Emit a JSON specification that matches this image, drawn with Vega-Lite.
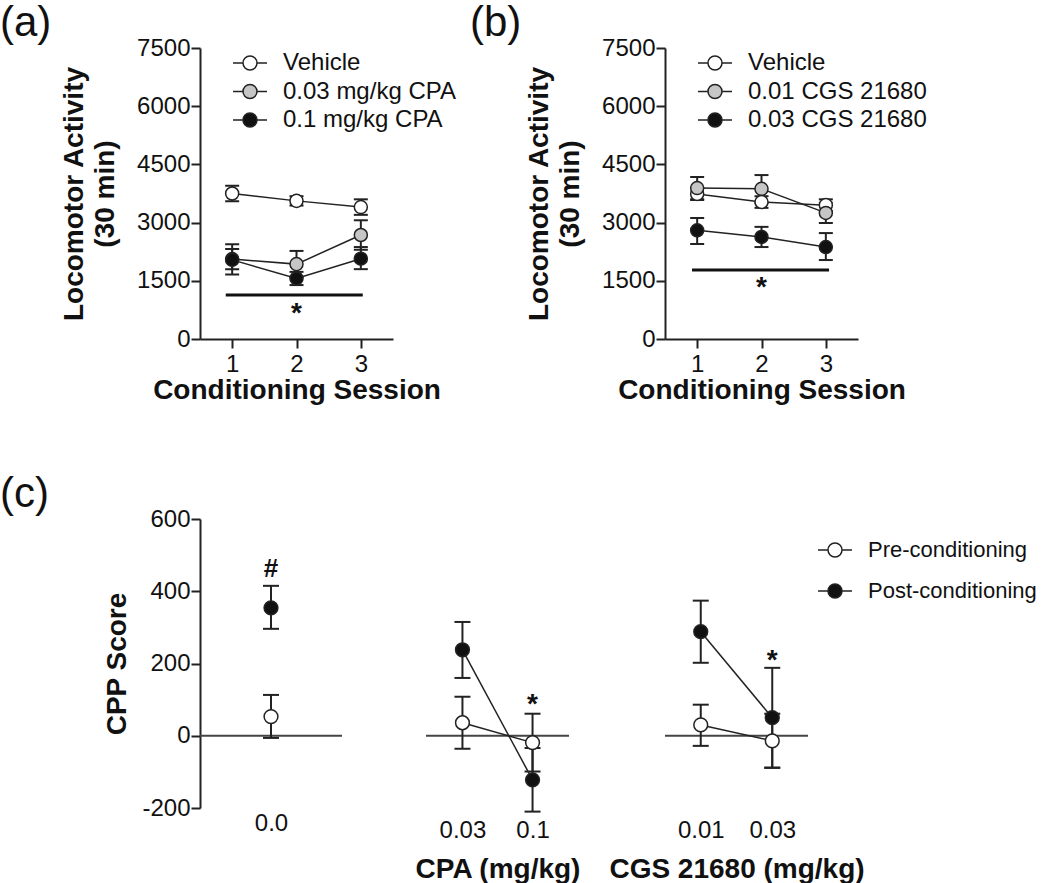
{
 "$schema": "https://vega.github.io/schema/vega-lite/v6.json",
 "padding": {"top": 2, "left": 0, "right": 0, "bottom": 0},
 "background": "white",
 "config": {
  "font": "Liberation Sans",
  "view": {"stroke": null},
  "axis": {"labelFont": "Liberation Sans", "titleFont": "Liberation Sans", "labelFontSize": 24, "labelColor": "#111", "titleFontSize": 28, "titleFontWeight": "bold", "titleColor": "#111", "domainColor": "#222", "domainWidth": 2, "tickColor": "#222", "tickWidth": 2, "grid": false},
  "title": {"font": "Liberation Sans", "fontSize": 42, "fontWeight": "normal", "anchor": "start", "frame": "group", "color": "#111"},
  "legend": {"labelFont": "Liberation Sans", "labelLimit": 0}
 },
 "datasets": {
  "loco": [
   {"panel": "a", "group": "Vehicle", "session": 1, "mean": 3750, "lo": 3550, "hi": 3950},
   {"panel": "a", "group": "Vehicle", "session": 2, "mean": 3560, "lo": 3440, "hi": 3680},
   {"panel": "a", "group": "Vehicle", "session": 3, "mean": 3400, "lo": 3200, "hi": 3600},
   {"panel": "a", "group": "0.03 mg/kg CPA", "session": 1, "mean": 2060, "lo": 1800, "hi": 2320},
   {"panel": "a", "group": "0.03 mg/kg CPA", "session": 2, "mean": 1930, "lo": 1590, "hi": 2270},
   {"panel": "a", "group": "0.03 mg/kg CPA", "session": 3, "mean": 2680, "lo": 2300, "hi": 3060},
   {"panel": "a", "group": "0.1 mg/kg CPA", "session": 1, "mean": 2040, "lo": 1660, "hi": 2440},
   {"panel": "a", "group": "0.1 mg/kg CPA", "session": 2, "mean": 1560, "lo": 1390, "hi": 1730},
   {"panel": "a", "group": "0.1 mg/kg CPA", "session": 3, "mean": 2070, "lo": 1800, "hi": 2370},
   {"panel": "b", "group": "Vehicle", "session": 1, "mean": 3740, "lo": 3580, "hi": 3900},
   {"panel": "b", "group": "Vehicle", "session": 2, "mean": 3530, "lo": 3380, "hi": 3680},
   {"panel": "b", "group": "Vehicle", "session": 3, "mean": 3450, "lo": 3300, "hi": 3600},
   {"panel": "b", "group": "0.01 CGS 21680", "session": 1, "mean": 3890, "lo": 3600, "hi": 4175},
   {"panel": "b", "group": "0.01 CGS 21680", "session": 2, "mean": 3870, "lo": 3510, "hi": 4225},
   {"panel": "b", "group": "0.01 CGS 21680", "session": 3, "mean": 3250, "lo": 2990, "hi": 3510},
   {"panel": "b", "group": "0.03 CGS 21680", "session": 1, "mean": 2800, "lo": 2450, "hi": 3120},
   {"panel": "b", "group": "0.03 CGS 21680", "session": 2, "mean": 2630, "lo": 2370, "hi": 2890},
   {"panel": "b", "group": "0.03 CGS 21680", "session": 3, "mean": 2370, "lo": 2035, "hi": 2730}
  ],
  "sig": [
   {"panel": "a", "x1": 0.9, "x2": 3.03, "y": 1134, "xs": 2, "ys": 440, "label": "*"},
   {"panel": "b", "x1": 0.92, "x2": 3.05, "y": 1780, "xs": 2, "ys": 1100, "label": "*"}
  ],
  "cpp": [
   {"sub": "c1", "dose": "0.0", "phase": "Pre-conditioning", "mean": 53, "lo": -6, "hi": 113},
   {"sub": "c1", "dose": "0.0", "phase": "Post-conditioning", "mean": 354, "lo": 296, "hi": 415},
   {"sub": "c2", "dose": "0.03", "phase": "Pre-conditioning", "mean": 36, "lo": -36, "hi": 108},
   {"sub": "c2", "dose": "0.1", "phase": "Pre-conditioning", "mean": -19, "lo": -99, "hi": 61},
   {"sub": "c2", "dose": "0.03", "phase": "Post-conditioning", "mean": 238, "lo": 160, "hi": 315},
   {"sub": "c2", "dose": "0.1", "phase": "Post-conditioning", "mean": -122, "lo": -210, "hi": -34},
   {"sub": "c3", "dose": "0.01", "phase": "Pre-conditioning", "mean": 30, "lo": -28, "hi": 86},
   {"sub": "c3", "dose": "0.03", "phase": "Pre-conditioning", "mean": -14, "lo": -89, "hi": 61},
   {"sub": "c3", "dose": "0.01", "phase": "Post-conditioning", "mean": 288, "lo": 202, "hi": 374},
   {"sub": "c3", "dose": "0.03", "phase": "Post-conditioning", "mean": 50, "lo": -88, "hi": 188}
  ],
  "cppnote": [
   {"sub": "c1", "dose": "0.0", "y": 440, "label": "#"},
   {"sub": "c2", "dose": "0.1", "y": 64, "label": "*"},
   {"sub": "c3", "dose": "0.03", "y": 185, "label": "*"}
  ]
 },
 "spacing": 69,
 "resolve": {"scale": {"fill": "independent"}, "legend": {"fill": "independent"}},
 "vconcat": [
  {
   "spacing": 14,
   "resolve": {"scale": {"fill": "independent"}, "legend": {"fill": "independent"}},
   "hconcat": [
    {
     "width": 193, "height": 291,
     "title": {"text": "(a)", "dx": -200, "offset": -9},
     "layer": [
      {"data": {"name": "loco"}, "transform": [{"filter": "datum.panel === 'a'"}],
       "mark": {"type": "line", "stroke": "#222", "strokeWidth": 1.5},
       "encoding": {
        "x": {"field": "session", "type": "quantitative", "scale": {"domain": [0.5, 3.5]}, "axis": {"values": [1, 2, 3], "labelExpr": "'' + datum.value", "tickSize": 9, "labelPadding": 4, "titlePadding": 0, "title": "Conditioning Session"}},
        "y": {"field": "mean", "type": "quantitative", "scale": {"domain": [0, 7500]}, "axis": {"values": [0, 1500, 3000, 4500, 6000, 7500], "labelExpr": "'' + datum.value", "tickSize": 9, "labelPadding": 1, "titlePadding": 17, "titleLineHeight": 31, "title": ["Locomotor Activity", "(30 min)"]}},
        "detail": {"field": "group"}
       }},
      {"data": {"name": "loco"}, "transform": [{"filter": "datum.panel === 'a'"}],
       "mark": {"type": "rule", "stroke": "#222", "strokeWidth": 2},
       "encoding": {
        "x": {"field": "session", "type": "quantitative", "scale": {"domain": [0.5, 3.5]}},
        "y": {"field": "lo", "type": "quantitative", "scale": {"domain": [0, 7500]}},
        "y2": {"field": "hi"}
       }},
      {"data": {"name": "loco"}, "transform": [{"filter": "datum.panel === 'a'"}],
       "mark": {"type": "tick", "orient": "horizontal", "size": 14, "thickness": 2, "color": "#222", "opacity": 1},
       "encoding": {
        "x": {"field": "session", "type": "quantitative", "scale": {"domain": [0.5, 3.5]}},
        "y": {"field": "hi", "type": "quantitative", "scale": {"domain": [0, 7500]}}
       }},
      {"data": {"name": "loco"}, "transform": [{"filter": "datum.panel === 'a'"}],
       "mark": {"type": "tick", "orient": "horizontal", "size": 14, "thickness": 2, "color": "#222", "opacity": 1},
       "encoding": {
        "x": {"field": "session", "type": "quantitative", "scale": {"domain": [0.5, 3.5]}},
        "y": {"field": "lo", "type": "quantitative", "scale": {"domain": [0, 7500]}}
       }},
      {"data": {"name": "loco"}, "transform": [{"filter": "datum.panel === 'a'"}],
       "mark": {"type": "point", "filled": true, "size": 170, "stroke": "#222", "strokeWidth": 1.5, "opacity": 1},
       "encoding": {
        "x": {"field": "session", "type": "quantitative", "scale": {"domain": [0.5, 3.5]}},
        "y": {"field": "mean", "type": "quantitative", "scale": {"domain": [0, 7500]}},
        "fill": {"field": "group", "type": "nominal", "sort": null,
         "scale": {"domain": ["Vehicle", "0.03 mg/kg CPA", "0.1 mg/kg CPA"], "range": ["#ffffff", "#c6c6c6", "#111111"]},
         "legend": {"orient": "none", "legendX": 38, "legendY": 3, "title": null, "padding": 0, "symbolType": "M-2.43,0H-1M1,0H2.43M-1,0A1,1,0,1,0,1,0A1,1,0,1,0,-1,0Z", "symbolSize": 196, "symbolStrokeWidth": 1.5, "symbolStrokeColor": "#222", "symbolOpacity": 1, "labelFontSize": 24, "labelColor": "#111", "labelOffset": 21, "rowPadding": 4.5, "labelLimit": 0,
          "encode": {"symbols": {"update": {"stroke": {"value": "#222"}, "strokeWidth": {"value": 1.5}, "shape": {"value": "M-2.43,0H-1M1,0H2.43M-1,0A1,1,0,1,0,1,0A1,1,0,1,0,-1,0Z"}, "size": {"value": 196}, "opacity": {"value": 1}}}}}
        }
       }},
      {"data": {"name": "sig"}, "transform": [{"filter": "datum.panel === 'a'"}],
       "mark": {"type": "rule", "stroke": "#111", "strokeWidth": 3},
       "encoding": {
        "x": {"field": "x1", "type": "quantitative", "scale": {"domain": [0.5, 3.5]}},
        "x2": {"field": "x2"},
        "y": {"field": "y", "type": "quantitative", "scale": {"domain": [0, 7500]}}
       }},
      {"data": {"name": "sig"}, "transform": [{"filter": "datum.panel === 'a'"}],
       "mark": {"type": "text", "fontSize": 28, "fontWeight": "bold", "baseline": "alphabetic", "color": "#111"},
       "encoding": {
        "x": {"field": "xs", "type": "quantitative", "scale": {"domain": [0.5, 3.5]}},
        "y": {"field": "ys", "type": "quantitative", "scale": {"domain": [0, 7500]}},
        "text": {"field": "label"}
       }}
     ]
    },
    {
     "width": 193, "height": 291,
     "title": {"text": "(b)", "dx": -195, "offset": -9},
     "layer": [
      {"data": {"name": "loco"}, "transform": [{"filter": "datum.panel === 'b'"}],
       "mark": {"type": "line", "stroke": "#222", "strokeWidth": 1.5},
       "encoding": {
        "x": {"field": "session", "type": "quantitative", "scale": {"domain": [0.5, 3.5]}, "axis": {"values": [1, 2, 3], "labelExpr": "'' + datum.value", "tickSize": 9, "labelPadding": 4, "titlePadding": 0, "title": "Conditioning Session"}},
        "y": {"field": "mean", "type": "quantitative", "scale": {"domain": [0, 7500]}, "axis": {"values": [0, 1500, 3000, 4500, 6000, 7500], "labelExpr": "'' + datum.value", "tickSize": 9, "labelPadding": 1, "titlePadding": 17, "titleLineHeight": 31, "title": ["Locomotor Activity", "(30 min)"]}},
        "detail": {"field": "group"}
       }},
      {"data": {"name": "loco"}, "transform": [{"filter": "datum.panel === 'b'"}],
       "mark": {"type": "rule", "stroke": "#222", "strokeWidth": 2},
       "encoding": {
        "x": {"field": "session", "type": "quantitative", "scale": {"domain": [0.5, 3.5]}},
        "y": {"field": "lo", "type": "quantitative", "scale": {"domain": [0, 7500]}},
        "y2": {"field": "hi"}
       }},
      {"data": {"name": "loco"}, "transform": [{"filter": "datum.panel === 'b'"}],
       "mark": {"type": "tick", "orient": "horizontal", "size": 14, "thickness": 2, "color": "#222", "opacity": 1},
       "encoding": {
        "x": {"field": "session", "type": "quantitative", "scale": {"domain": [0.5, 3.5]}},
        "y": {"field": "hi", "type": "quantitative", "scale": {"domain": [0, 7500]}}
       }},
      {"data": {"name": "loco"}, "transform": [{"filter": "datum.panel === 'b'"}],
       "mark": {"type": "tick", "orient": "horizontal", "size": 14, "thickness": 2, "color": "#222", "opacity": 1},
       "encoding": {
        "x": {"field": "session", "type": "quantitative", "scale": {"domain": [0.5, 3.5]}},
        "y": {"field": "lo", "type": "quantitative", "scale": {"domain": [0, 7500]}}
       }},
      {"data": {"name": "loco"}, "transform": [{"filter": "datum.panel === 'b'"}],
       "mark": {"type": "point", "filled": true, "size": 170, "stroke": "#222", "strokeWidth": 1.5, "opacity": 1},
       "encoding": {
        "x": {"field": "session", "type": "quantitative", "scale": {"domain": [0.5, 3.5]}},
        "y": {"field": "mean", "type": "quantitative", "scale": {"domain": [0, 7500]}},
        "fill": {"field": "group", "type": "nominal", "sort": null,
         "scale": {"domain": ["Vehicle", "0.01 CGS 21680", "0.03 CGS 21680"], "range": ["#ffffff", "#c6c6c6", "#111111"]},
         "legend": {"orient": "none", "legendX": 38, "legendY": 3, "title": null, "padding": 0, "symbolType": "M-2.43,0H-1M1,0H2.43M-1,0A1,1,0,1,0,1,0A1,1,0,1,0,-1,0Z", "symbolSize": 196, "symbolStrokeWidth": 1.5, "symbolStrokeColor": "#222", "symbolOpacity": 1, "labelFontSize": 24, "labelColor": "#111", "labelOffset": 21, "rowPadding": 4.5, "labelLimit": 0,
          "encode": {"symbols": {"update": {"stroke": {"value": "#222"}, "strokeWidth": {"value": 1.5}, "shape": {"value": "M-2.43,0H-1M1,0H2.43M-1,0A1,1,0,1,0,1,0A1,1,0,1,0,-1,0Z"}, "size": {"value": 196}, "opacity": {"value": 1}}}}}
        }
       }},
      {"data": {"name": "sig"}, "transform": [{"filter": "datum.panel === 'b'"}],
       "mark": {"type": "rule", "stroke": "#111", "strokeWidth": 3},
       "encoding": {
        "x": {"field": "x1", "type": "quantitative", "scale": {"domain": [0.5, 3.5]}},
        "x2": {"field": "x2"},
        "y": {"field": "y", "type": "quantitative", "scale": {"domain": [0, 7500]}}
       }},
      {"data": {"name": "sig"}, "transform": [{"filter": "datum.panel === 'b'"}],
       "mark": {"type": "text", "fontSize": 28, "fontWeight": "bold", "baseline": "alphabetic", "color": "#111"},
       "encoding": {
        "x": {"field": "xs", "type": "quantitative", "scale": {"domain": [0.5, 3.5]}},
        "y": {"field": "ys", "type": "quantitative", "scale": {"domain": [0, 7500]}},
        "text": {"field": "label"}
       }}
     ]
    }
   ]
  },
  {
   "spacing": 71,
   "resolve": {"scale": {"fill": "independent"}, "legend": {"fill": "independent"}},
   "hconcat": [
    {
     "width": 142, "height": 289,
     "title": {"text": "(c)", "dx": -200, "offset": -9},
     "layer": [
      {"data": {"values": [{}]},
       "mark": {"type": "rule", "stroke": "#444", "strokeWidth": 2},
       "encoding": {
        "y": {"datum": 0, "type": "quantitative", "scale": {"domain": [-200, 600]}, "axis": {"values": [-200, 0, 200, 400, 600], "labelExpr": "'' + datum.value", "tickSize": 9, "labelPadding": 1, "titlePadding": 10, "title": "CPP Score"}}
       }},
      {"data": {"name": "cpp"}, "transform": [{"filter": "datum.sub === 'c1'"}],
       "mark": {"type": "rule", "stroke": "#222", "strokeWidth": 2},
       "encoding": {
        "x": {"field": "dose", "type": "ordinal", "scale": {"type": "point", "domain": ["0.0"], "padding": 0.5}, "axis": {"domain": false, "ticks": false, "tickSize": 0, "labelPadding": 3, "labelAngle": 0, "title": null}},
        "y": {"field": "lo", "type": "quantitative", "scale": {"domain": [-200, 600]}},
        "y2": {"field": "hi"}
       }},
      {"data": {"name": "cpp"}, "transform": [{"filter": "datum.sub === 'c1'"}],
       "mark": {"type": "tick", "orient": "horizontal", "size": 16, "thickness": 2, "color": "#222", "opacity": 1},
       "encoding": {
        "x": {"field": "dose", "type": "ordinal", "scale": {"type": "point", "domain": ["0.0"], "padding": 0.5}},
        "y": {"field": "hi", "type": "quantitative", "scale": {"domain": [-200, 600]}}
       }},
      {"data": {"name": "cpp"}, "transform": [{"filter": "datum.sub === 'c1'"}],
       "mark": {"type": "tick", "orient": "horizontal", "size": 16, "thickness": 2, "color": "#222", "opacity": 1},
       "encoding": {
        "x": {"field": "dose", "type": "ordinal", "scale": {"type": "point", "domain": ["0.0"], "padding": 0.5}},
        "y": {"field": "lo", "type": "quantitative", "scale": {"domain": [-200, 600]}}
       }},
      {"data": {"name": "cpp"}, "transform": [{"filter": "datum.sub === 'c1'"}],
       "mark": {"type": "point", "filled": true, "size": 190, "stroke": "#222", "strokeWidth": 1.5, "opacity": 1},
       "encoding": {
        "x": {"field": "dose", "type": "ordinal", "scale": {"type": "point", "domain": ["0.0"], "padding": 0.5}},
        "y": {"field": "mean", "type": "quantitative", "scale": {"domain": [-200, 600]}},
        "fill": {"field": "phase", "type": "nominal", "scale": {"domain": ["Pre-conditioning", "Post-conditioning"], "range": ["#ffffff", "#111111"]}, "legend": null}
       }},
      {"data": {"name": "cppnote"}, "transform": [{"filter": "datum.sub === 'c1'"}],
       "mark": {"type": "text", "fontSize": 26, "fontWeight": "bold", "baseline": "alphabetic", "color": "#111"},
       "encoding": {
        "x": {"field": "dose", "type": "ordinal", "scale": {"type": "point", "domain": ["0.0"], "padding": 0.5}},
        "y": {"field": "y", "type": "quantitative", "scale": {"domain": [-200, 600]}},
        "text": {"field": "label"}
       }}
     ]
    },
    {
     "spacing": 27,
     "resolve": {"scale": {"fill": "independent"}, "legend": {"fill": "independent"}},
     "hconcat": [
      {
       "width": 143, "height": 289,
       "layer": [
        {"data": {"values": [{}]},
         "mark": {"type": "rule", "stroke": "#444", "strokeWidth": 2},
         "encoding": {
          "y": {"datum": 0, "type": "quantitative", "scale": {"domain": [-200, 600]}, "axis": null}
         }},
        {"data": {"name": "cpp"}, "transform": [{"filter": "datum.sub === 'c2'"}],
         "mark": {"type": "line", "stroke": "#222", "strokeWidth": 1.5},
         "encoding": {
          "x": {"field": "dose", "type": "ordinal", "scale": {"type": "point", "domain": ["0.03", "0.1"], "padding": 0.52}, "axis": {"domain": false, "ticks": false, "tickSize": 0, "labelPadding": 10, "labelAngle": 0, "titlePadding": 13, "title": "CPA (mg/kg)"}},
          "y": {"field": "mean", "type": "quantitative", "scale": {"domain": [-200, 600]}, "axis": null},
          "detail": {"field": "phase"}
         }},
        {"data": {"name": "cpp"}, "transform": [{"filter": "datum.sub === 'c2'"}],
         "mark": {"type": "rule", "stroke": "#222", "strokeWidth": 2},
         "encoding": {
          "x": {"field": "dose", "type": "ordinal", "scale": {"type": "point", "domain": ["0.03", "0.1"], "padding": 0.52}},
          "y": {"field": "lo", "type": "quantitative", "scale": {"domain": [-200, 600]}, "axis": null},
          "y2": {"field": "hi"}
         }},
        {"data": {"name": "cpp"}, "transform": [{"filter": "datum.sub === 'c2'"}],
         "mark": {"type": "tick", "orient": "horizontal", "size": 16, "thickness": 2, "color": "#222", "opacity": 1},
         "encoding": {
          "x": {"field": "dose", "type": "ordinal", "scale": {"type": "point", "domain": ["0.03", "0.1"], "padding": 0.52}},
          "y": {"field": "hi", "type": "quantitative", "scale": {"domain": [-200, 600]}, "axis": null}
         }},
        {"data": {"name": "cpp"}, "transform": [{"filter": "datum.sub === 'c2'"}],
         "mark": {"type": "tick", "orient": "horizontal", "size": 16, "thickness": 2, "color": "#222", "opacity": 1},
         "encoding": {
          "x": {"field": "dose", "type": "ordinal", "scale": {"type": "point", "domain": ["0.03", "0.1"], "padding": 0.52}},
          "y": {"field": "lo", "type": "quantitative", "scale": {"domain": [-200, 600]}, "axis": null}
         }},
        {"data": {"name": "cpp"}, "transform": [{"filter": "datum.sub === 'c2'"}],
         "mark": {"type": "point", "filled": true, "size": 190, "stroke": "#222", "strokeWidth": 1.5, "opacity": 1},
         "encoding": {
          "x": {"field": "dose", "type": "ordinal", "scale": {"type": "point", "domain": ["0.03", "0.1"], "padding": 0.52}},
          "y": {"field": "mean", "type": "quantitative", "scale": {"domain": [-200, 600]}, "axis": null},
          "fill": {"field": "phase", "type": "nominal", "scale": {"domain": ["Pre-conditioning", "Post-conditioning"], "range": ["#ffffff", "#111111"]}, "legend": null}
         }},
        {"data": {"name": "cppnote"}, "transform": [{"filter": "datum.sub === 'c2'"}],
         "mark": {"type": "text", "fontSize": 28, "fontWeight": "bold", "baseline": "alphabetic", "color": "#111"},
         "encoding": {
          "x": {"field": "dose", "type": "ordinal", "scale": {"type": "point", "domain": ["0.03", "0.1"], "padding": 0.52}},
          "y": {"field": "y", "type": "quantitative", "scale": {"domain": [-200, 600]}, "axis": null},
          "text": {"field": "label"}
         }}
       ]
      },
      {
       "width": 143, "height": 289,
       "layer": [
        {"data": {"values": [{}]},
         "mark": {"type": "rule", "stroke": "#444", "strokeWidth": 2},
         "encoding": {
          "y": {"datum": 0, "type": "quantitative", "scale": {"domain": [-200, 600]}, "axis": null}
         }},
        {"data": {"name": "cpp"}, "transform": [{"filter": "datum.sub === 'c3'"}],
         "mark": {"type": "line", "stroke": "#222", "strokeWidth": 1.5},
         "encoding": {
          "x": {"field": "dose", "type": "ordinal", "scale": {"type": "point", "domain": ["0.01", "0.03"], "padding": 0.5}, "axis": {"domain": false, "ticks": false, "tickSize": 0, "labelPadding": 10, "labelAngle": 0, "titlePadding": 13, "title": "CGS 21680 (mg/kg)"}},
          "y": {"field": "mean", "type": "quantitative", "scale": {"domain": [-200, 600]}, "axis": null},
          "detail": {"field": "phase"}
         }},
        {"data": {"name": "cpp"}, "transform": [{"filter": "datum.sub === 'c3'"}],
         "mark": {"type": "rule", "stroke": "#222", "strokeWidth": 2},
         "encoding": {
          "x": {"field": "dose", "type": "ordinal", "scale": {"type": "point", "domain": ["0.01", "0.03"], "padding": 0.5}},
          "y": {"field": "lo", "type": "quantitative", "scale": {"domain": [-200, 600]}, "axis": null},
          "y2": {"field": "hi"}
         }},
        {"data": {"name": "cpp"}, "transform": [{"filter": "datum.sub === 'c3'"}],
         "mark": {"type": "tick", "orient": "horizontal", "size": 16, "thickness": 2, "color": "#222", "opacity": 1},
         "encoding": {
          "x": {"field": "dose", "type": "ordinal", "scale": {"type": "point", "domain": ["0.01", "0.03"], "padding": 0.5}},
          "y": {"field": "hi", "type": "quantitative", "scale": {"domain": [-200, 600]}, "axis": null}
         }},
        {"data": {"name": "cpp"}, "transform": [{"filter": "datum.sub === 'c3'"}],
         "mark": {"type": "tick", "orient": "horizontal", "size": 16, "thickness": 2, "color": "#222", "opacity": 1},
         "encoding": {
          "x": {"field": "dose", "type": "ordinal", "scale": {"type": "point", "domain": ["0.01", "0.03"], "padding": 0.5}},
          "y": {"field": "lo", "type": "quantitative", "scale": {"domain": [-200, 600]}, "axis": null}
         }},
        {"data": {"name": "cpp"}, "transform": [{"filter": "datum.sub === 'c3'"}],
         "mark": {"type": "point", "filled": true, "size": 190, "stroke": "#222", "strokeWidth": 1.5, "opacity": 1},
         "encoding": {
          "x": {"field": "dose", "type": "ordinal", "scale": {"type": "point", "domain": ["0.01", "0.03"], "padding": 0.5}},
          "y": {"field": "mean", "type": "quantitative", "scale": {"domain": [-200, 600]}, "axis": null},
          "fill": {"field": "phase", "type": "nominal", "sort": null, "scale": {"domain": ["Pre-conditioning", "Post-conditioning"], "range": ["#ffffff", "#111111"]},
           "legend": {"orient": "none", "legendX": 159, "legendY": 20, "title": null, "padding": 0, "symbolType": "M-2.43,0H-1M1,0H2.43M-1,0A1,1,0,1,0,1,0A1,1,0,1,0,-1,0Z", "symbolSize": 196, "symbolStrokeWidth": 1.5, "symbolStrokeColor": "#222", "symbolOpacity": 1, "labelFontSize": 22, "labelColor": "#111", "labelOffset": 22, "rowPadding": 19, "labelLimit": 0,
            "encode": {"symbols": {"update": {"stroke": {"value": "#222"}, "strokeWidth": {"value": 1.5}, "shape": {"value": "M-2.43,0H-1M1,0H2.43M-1,0A1,1,0,1,0,1,0A1,1,0,1,0,-1,0Z"}, "size": {"value": 196}, "opacity": {"value": 1}}}}}
          }
         }},
        {"data": {"name": "cppnote"}, "transform": [{"filter": "datum.sub === 'c3'"}],
         "mark": {"type": "text", "fontSize": 28, "fontWeight": "bold", "baseline": "alphabetic", "color": "#111"},
         "encoding": {
          "x": {"field": "dose", "type": "ordinal", "scale": {"type": "point", "domain": ["0.01", "0.03"], "padding": 0.5}},
          "y": {"field": "y", "type": "quantitative", "scale": {"domain": [-200, 600]}, "axis": null},
          "text": {"field": "label"}
         }}
       ]
      }
     ]
    }
   ]
  }
 ]
}
